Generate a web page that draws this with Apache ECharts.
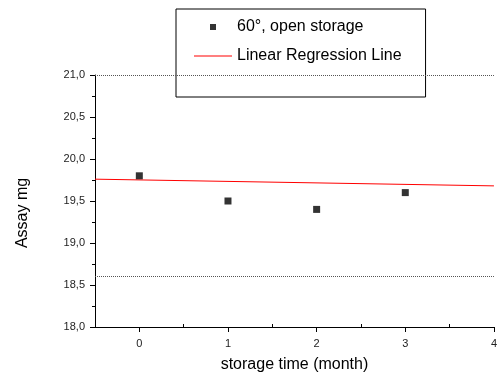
<!DOCTYPE html>
<html>
<head>
<meta charset="utf-8">
<script src="https://cdn.jsdelivr.net/npm/echarts@6/dist/echarts.min.js"></script>
<style>html,body{margin:0;padding:0;background:#fff}#c{width:500px;height:378px}</style>
</head>
<body>
<div id="c"></div>
<script>
// Data
var months = [0, 1, 2, 3];
var assay = [19.8, 19.5, 19.4, 19.6];
var regressionX = [-0.5, 4];
var regressionY = [19.76, 19.68];
var limitLines = [21.0, 18.6];
var xMajorTicks = [0, 1, 2, 3, 4];
var xMinorTicks = [0.5, 1.5, 2.5, 3.5];
var seriesNames = ['60°, open storage', 'Linear Regression Line'];

var FONT = '"Liberation Sans", Arial, sans-serif';
var chart = echarts.init(document.getElementById('c'), null, {renderer: 'canvas'});

var scatterData = months.map(function (m, i) { return [m, assay[i]]; });
var regData = regressionX.map(function (x, i) { return [x, regressionY[i]]; });

chart.setOption({
  animation: false,
  backgroundColor: '#fff',
  textStyle: {fontFamily: FONT},
  grid: {left: 95, right: 3, top: 75, bottom: 49, containLabel: false},
  legend: {
    left: 176, top: 9,
    orient: 'vertical',
    backgroundColor: '#fff',
    borderColor: '#000',
    borderWidth: 1,
    padding: [10, 24, 33, 18],
    itemGap: 13,
    itemWidth: 38,
    itemHeight: 14,
    textStyle: {fontSize: 16, color: '#000', fontFamily: FONT},
    data: [
      {name: seriesNames[0], icon: 'path://M0,0M38,14M16,4h6v6h-6z', itemStyle: {color: '#000'}},
      {name: seriesNames[1], icon: 'path://M0,0M38,14M0,6.5h38v1h-38z', itemStyle: {color: '#ff0000'}}
    ]
  },
  xAxis: [{
    type: 'value', min: -0.5, max: 4, interval: 0.5,
    name: 'storage time (month)', nameLocation: 'middle', nameGap: 30,
    nameTextStyle: {fontSize: 16, color: '#000', fontFamily: FONT},
    axisLine: {show: true, onZero: false, lineStyle: {color: '#000', width: 1}},
    axisTick: {show: true, length: 5, customValues: xMajorTicks, lineStyle: {color: '#000'}},
    axisLabel: {customValues: xMajorTicks, fontSize: 11, color: '#222', margin: 11, fontFamily: FONT,
      formatter: function (v) { return String(v); }},
    splitLine: {show: false}
  }, {
    type: 'value', min: -0.5, max: 4, interval: 0.5, position: 'bottom',
    axisLine: {show: false, onZero: false},
    axisTick: {show: true, inside: true, length: 3, customValues: xMinorTicks, lineStyle: {color: '#000'}},
    axisLabel: {show: false},
    splitLine: {show: false}
  }],
  yAxis: {
    type: 'value', min: 18, max: 21, interval: 0.5,
    name: 'Assay mg', nameLocation: 'middle', nameGap: 64,
    nameTextStyle: {fontSize: 16, color: '#000', fontFamily: FONT, padding: [0, 24, 0, 0]},
    axisLine: {show: true, onZero: false, lineStyle: {color: '#000', width: 1}},
    axisTick: {show: true, length: 5, lineStyle: {color: '#000'}},
    minorTick: {show: true, splitNumber: 2, length: 3, lineStyle: {color: '#000'}},
    axisLabel: {fontSize: 11, color: '#222', margin: 10, fontFamily: FONT,
      formatter: function (v) { return v.toFixed(1).replace('.', ','); }},
    splitLine: {show: false}
  },
  series: [{
    name: seriesNames[0],
    type: 'scatter',
    symbol: 'rect',
    symbolSize: 7,
    itemStyle: {color: '#000'},
    data: scatterData,
    markLine: {
      silent: true,
      symbol: 'none',
      label: {show: false},
      lineStyle: {type: 'dotted', color: '#555', width: 1},
      data: limitLines.map(function (v) { return {yAxis: v}; })
    },
    z: 3
  }, {
    name: seriesNames[1],
    type: 'line',
    symbol: 'none',
    lineStyle: {color: '#ff0000', width: 1},
    itemStyle: {color: '#ff0000'},
    data: regData,
    z: 2
  }]
});
</script>
</body>
</html>
